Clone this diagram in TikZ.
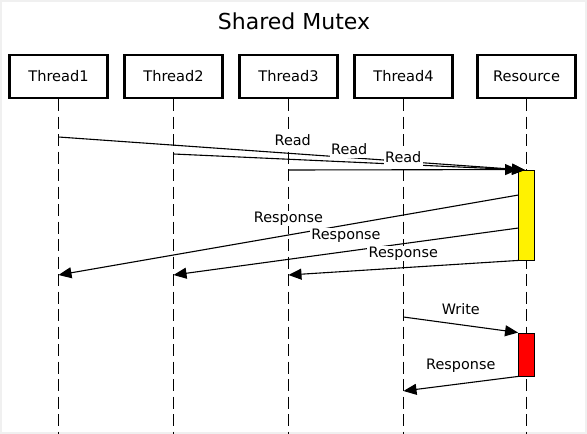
\documentclass[tikz,border=0pt]{standalone}
\usepackage{fontspec}
\setmainfont{DejaVu Sans}
\usetikzlibrary{arrows.meta}
\begin{document}
\begin{tikzpicture}[x=1pt,y=-1pt,
  actor/.style={draw, line width=2.2pt, minimum width=98pt, minimum height=43pt, inner sep=0pt, font=\fontsize{14.6}{17}\selectfont},
  life/.style={line width=1.2pt, dash pattern=on 12pt off 5.5pt},
  msg/.style={line width=1.1pt, -{Triangle[length=13pt,width=11pt]}},
  lbl/.style={fill=white, inner sep=1.5pt, anchor=base, text height=0.95em, text depth=0.25em, font=\fontsize{14.4}{17}\selectfont},
  act/.style={draw, line width=0.9pt, minimum width=16pt, inner sep=0pt}]
% frame / background
\fill[black!6] (0,0) rectangle (587,434);
\fill[white] (2,2) rectangle (585,432);
\useasboundingbox (0,0) rectangle (587,434);
% title
\node[anchor=base, font=\fontsize{22}{26}\selectfont] (title) at (294,29) {Shared Mutex};
% actors
\node[actor] (t1) at (58.5,76.5) {Thread1};
\node[actor] (t2) at (173.5,76.5) {Thread2};
\node[actor] (t3) at (288.5,76.5) {Thread3};
\node[actor] (t4) at (403.5,76.5) {Thread4};
\node[actor] (res) at (526.5,76.5) {Resource};
% lifeline ends
\coordinate (b1) at (58.5,434);
\coordinate (b2) at (173.5,434);
\coordinate (b3) at (288.5,434);
\coordinate (b4) at (403.5,434);
\coordinate (b5) at (526.5,434);
\draw[life] (t1.south) -- (b1);
\draw[life] (t2.south) -- (b2);
\draw[life] (t3.south) -- (b3);
\draw[life] (t4.south) -- (b4);
\draw[life] (res.south) -- (b5);
% activations
\node[act, fill=yellow, minimum height=90pt] (act1) at (526.5,215) {};
\node[act, fill=red, minimum height=43pt] (act2) at (526.5,354.5) {};
% message points
\coordinate (m1s) at (58.5,137);
\coordinate (m2s) at (173.5,154);
\coordinate (m3s) at (288.5,170);
\coordinate (rend) at (525,170);
\coordinate (r1s) at (518.5,195);
\coordinate (r2s) at (518.5,228);
\coordinate (r1e) at (58.5,275);
\coordinate (r2e) at (173.5,275);
\coordinate (r3e) at (288.5,275);
\coordinate (ws) at (403.5,317);
\coordinate (r4e) at (403.5,391);
% reads
\draw[msg] (m1s) -- (rend) node[lbl, midway, xshift=1pt, yshift=8.5pt] (l1) {Read};
\draw[msg] (m2s) -- (rend) node[lbl, midway, yshift=8pt] (l2) {Read};
\draw[msg] (m3s) -- (act1.north west) node[lbl, midway, yshift=7pt] (l3) {Read};
% responses
\draw[msg] (r1s) -- (r1e) node[lbl, midway, yshift=13pt] (l4) {Response};
\draw[msg] (r2s) -- (r2e) node[lbl, midway, yshift=12.5pt] (l5) {Response};
\draw[msg] (act1.south west) -- (r3e) node[lbl, midway, yshift=10.5pt] (l6) {Response};
% write
\draw[msg] (ws) -- (act2.north west) node[lbl, midway, yshift=10.5pt] (l7) {Write};
\draw[msg] (act2.south west) -- (r4e) node[lbl, midway, yshift=14pt] (l8) {Response};
\end{tikzpicture}
\end{document}
